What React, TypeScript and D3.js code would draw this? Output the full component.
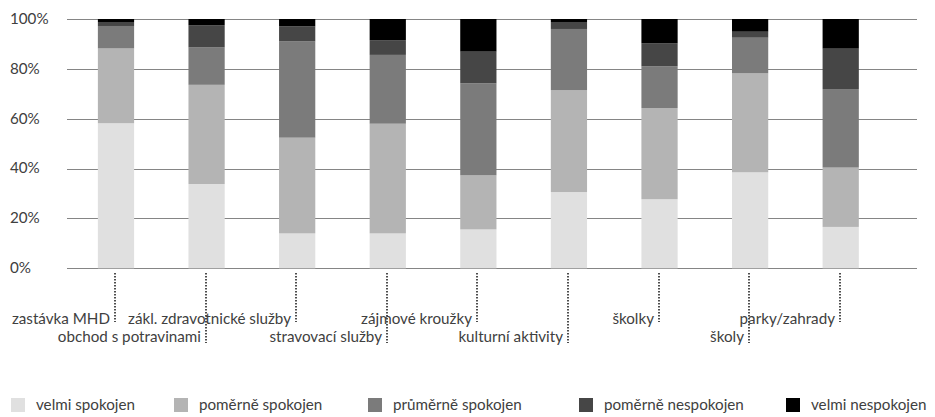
import React, { useEffect, useRef } from 'react';
import * as d3 from 'd3';

const categories = [
  'zastávka MHD',
  'obchod s potravinami',
  'zákl. zdravotnické služby',
  'stravovací služby',
  'zájmové kroužky',
  'kulturní aktivity',
  'školky',
  'školy',
  'parky/zahrady',
];

const seriesNames = [
  'velmi spokojen',
  'poměrně spokojen',
  'průměrně spokojen',
  'poměrně nespokojen',
  'velmi nespokojen',
];

const velmiSpokojen = [58.2, 33.8, 14.0, 14.0, 15.6, 30.6, 27.7, 38.5, 16.6];
const pomerneSpokojen = [30.0, 39.8, 38.4, 44.0, 21.7, 40.9, 36.6, 39.7, 23.8];
const prumerneSpokojen = [9.0, 15.0, 38.6, 27.6, 36.9, 24.5, 16.7, 14.3, 31.5];
const pomerneNespokojen = [1.6, 8.9, 6.1, 5.9, 12.7, 2.8, 9.3, 2.4, 16.2];
const velmiNespokojen = [1.2, 2.5, 2.9, 8.5, 13.1, 1.2, 9.7, 5.1, 11.9];

const yTicks = [0, 0.2, 0.4, 0.6, 0.8, 1];

const colors = ['#e0e0e0', '#b4b4b4', '#7b7b7b', '#464646', '#000000'];

const FONT = 'Lato, "Open Sans", sans-serif';
const FONT_SIZE = 15.2;

const App: React.FC = () => {
  const svgRef = useRef<SVGSVGElement>(null);
  const width = 935;
  const height = 417;

  useEffect(() => {
    if (!svgRef.current) return;
    const svg = d3.select(svgRef.current);
    svg.selectAll('*').remove();

    const values = [velmiSpokojen, pomerneSpokojen, prumerneSpokojen, pomerneNespokojen, velmiNespokojen];
    const rows = categories.map((c, i) => {
      const row: Record<string, any> = { category: c };
      seriesNames.forEach((s, j) => { row[s] = values[j][i]; });
      return row;
    });

    const stacked = d3.stack<any>()
      .keys(seriesNames)
      .offset(d3.stackOffsetExpand)(rows);

    const x = d3.scaleBand<string>()
      .domain(categories)
      .range([70.7, 886])
      .paddingInner(0.6)
      .paddingOuter(0.3);

    const y = d3.scaleLinear()
      .domain([0, 1])
      .range([268.3, 19]);

    // gridlines
    svg.append('g')
      .selectAll('line')
      .data(yTicks)
      .join('line')
      .attr('x1', 67)
      .attr('x2', 917)
      .attr('y1', d => Math.round(y(d)) + 0.5)
      .attr('y2', d => Math.round(y(d)) + 0.5)
      .attr('stroke', '#858585')
      .attr('stroke-width', 1);

    // tick labels
    svg.append('g')
      .selectAll('text')
      .data(yTicks)
      .join('text')
      .attr('x', 10)
      .attr('y', d => y(d) + 1)
      .attr('dominant-baseline', 'middle')
      .attr('font-family', FONT)
      .attr('font-size', FONT_SIZE)
      .attr('fill', '#404040')
      .text(d => d3.format('.0%')(d));

    // bars
    svg.append('g')
      .selectAll('g')
      .data(stacked)
      .join('g')
      .attr('fill', (_, i) => colors[i])
      .selectAll('rect')
      .data(d => d)
      .join('rect')
      .attr('x', d => x(d.data.category)!)
      .attr('y', d => y(d[1]))
      .attr('width', x.bandwidth())
      .attr('height', d => y(d[0]) - y(d[1]));

    // category labels with dotted leader lines
    const cats = svg.append('g');
    categories.forEach((c, i) => {
      const cx = Math.round(x(c)! + x.bandwidth() / 2) - 1;
      const row = i % 2;
      const baseline = row === 0 ? 324 : 342;
      const lineEnd = row === 0 ? 322 : 343;
      cats.append('line')
        .attr('x1', cx)
        .attr('x2', cx)
        .attr('y1', 273)
        .attr('y2', lineEnd)
        .attr('stroke', '#222')
        .attr('stroke-width', 1.6)
        .attr('stroke-dasharray', '1.5,1.5');
      cats.append('text')
        .attr('x', cx - 5)
        .attr('y', baseline)
        .attr('text-anchor', 'end')
        .attr('font-family', FONT)
        .attr('font-size', FONT_SIZE)
        .attr('fill', '#404040')
        .text(c);
    });

    // legend
    const legendX = [11, 174, 368, 579, 786];
    const legend = svg.append('g');
    seriesNames.forEach((s, i) => {
      legend.append('rect')
        .attr('x', legendX[i])
        .attr('y', 398)
        .attr('width', 14)
        .attr('height', 14)
        .attr('fill', colors[i]);
      legend.append('text')
        .attr('x', legendX[i] + 25)
        .attr('y', 410)
        .attr('font-family', FONT)
        .attr('font-size', FONT_SIZE)
        .attr('fill', '#404040')
        .text(s);
    });
  }, []);

  return (
    <svg
      ref={svgRef}
      width={width}
      height={height}
      style={{ position: 'absolute', left: 0, top: 0, background: '#fff' }}
    />
  );
};

export default App;
